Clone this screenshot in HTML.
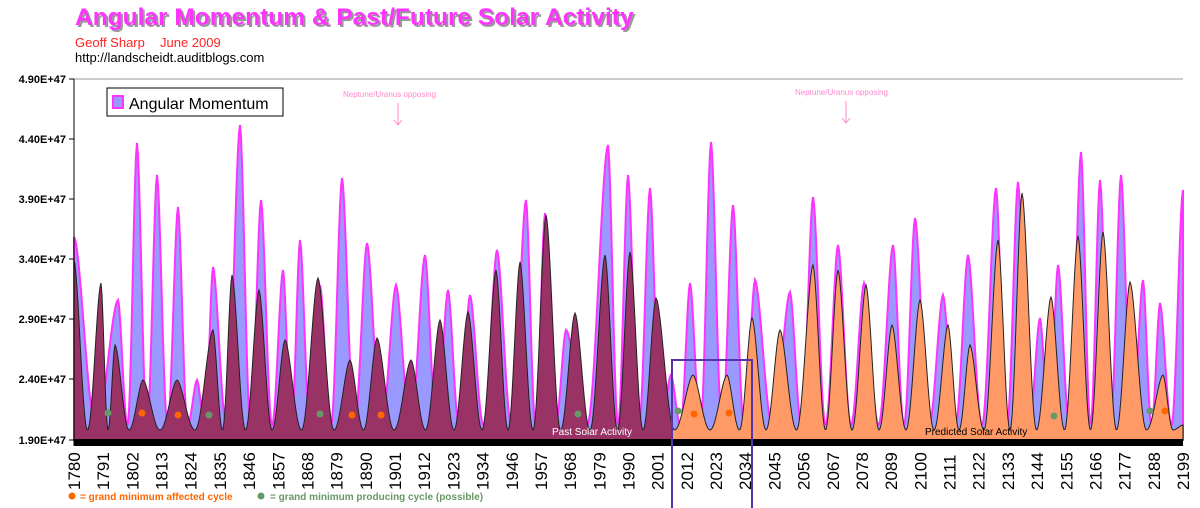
<!DOCTYPE html>
<html><head><meta charset="utf-8"><style>
body{margin:0;background:#fff;width:1200px;height:508px;overflow:hidden;font-family:"Liberation Sans",Arial,sans-serif}
</style></head><body>
<svg id="s" width="1200" height="508" xmlns="http://www.w3.org/2000/svg" style="position:absolute;left:0;top:0">
<text x="77" y="27" font-size="24.5" font-weight="bold" fill="#999" font-family="Liberation Sans">Angular Momentum &amp; Past/Future Solar Activity</text>
<text x="75" y="25" font-size="24.5" font-weight="bold" fill="#ff33ff" font-family="Liberation Sans">Angular Momentum &amp; Past/Future Solar Activity</text>
<text x="75" y="47" font-size="13" fill="#ff2222">Geoff Sharp</text>
<text x="160" y="47" font-size="13" fill="#ff2222">June 2009</text>
<text x="75" y="62" font-size="13" fill="#000">http://landscheidt.auditblogs.com</text>
<line x1="74" y1="79" x2="1183" y2="79" stroke="#999" stroke-width="1"/>
<g id="plot"></g>
<rect x="74" y="439" width="1109" height="7" fill="#000"/>
<line x1="74" y1="79" x2="74" y2="446" stroke="#000"/>
<g font-size="11" font-weight="bold" text-anchor="end">
<text x="66" y="83">4.90E+47</text><text x="66" y="143">4.40E+47</text><text x="66" y="203">3.90E+47</text>
<text x="66" y="263">3.40E+47</text><text x="66" y="323">2.90E+47</text><text x="66" y="383">2.40E+47</text><text x="66" y="444">1.90E+47</text>
</g>
<g stroke="#000"><line x1="69" y1="79" x2="74" y2="79"/><line x1="69" y1="139" x2="74" y2="139"/><line x1="69" y1="199" x2="74" y2="199"/><line x1="69" y1="259" x2="74" y2="259"/><line x1="69" y1="319" x2="74" y2="319"/><line x1="69" y1="379" x2="74" y2="379"/><line x1="69" y1="440" x2="74" y2="440"/></g>
<g id="xl" font-size="17"></g>
<rect x="107" y="88" width="176" height="28" fill="#fff" stroke="#000"/>
<rect x="113" y="96" width="10" height="12" fill="#9999ff" stroke="#ff33ff" stroke-width="2"/>
<text x="129" y="109" font-size="16">Angular Momentum</text>
<g fill="#ff88cc" font-size="8"><text x="343" y="97">Neptune/Uranus opposing</text><text x="795" y="95">Neptune/Uranus opposing</text></g>
<g stroke="#ff88cc" fill="none"><path d="M398 103V125M394 120L398 125L402 120"/><path d="M846 101V123M842 118L846 123L850 118"/></g>
<text x="552" y="435" font-size="10" fill="#fff">Past Solar Activity</text>
<text x="925" y="435" font-size="10" fill="#000">Predicted Solar Activity</text>
<g fill="#ff6600"><circle cx="142" cy="413" r="3.5"/><circle cx="178" cy="415" r="3.5"/><circle cx="352" cy="415" r="3.5"/><circle cx="381" cy="415" r="3.5"/><circle cx="694" cy="414" r="3.5"/><circle cx="729" cy="413" r="3.5"/><circle cx="1165" cy="411" r="3.5"/><circle cx="72" cy="496" r="3.5"/></g>
<g fill="#669966"><circle cx="108" cy="413" r="3.5"/><circle cx="209" cy="415" r="3.5"/><circle cx="320" cy="414" r="3.5"/><circle cx="578" cy="414" r="3.5"/><circle cx="678" cy="411" r="3.5"/><circle cx="1054" cy="416" r="3.5"/><circle cx="1150" cy="411" r="3.5"/><circle cx="261" cy="496" r="3.5"/></g>
<text x="80" y="500" font-size="10" font-weight="bold" fill="#ff6600">= grand minimum affected cycle</text>
<text x="270" y="500" font-size="10" font-weight="bold" fill="#669966">= grand minimum producing cycle (possible)</text>
<rect x="672" y="360" width="80" height="150" fill="none" stroke="#5533aa" stroke-width="2"/>
</svg>
<script>
var NS="http://www.w3.org/2000/svg";
var blue=[[74,237],[118,300],[137,143],[157,175],[178,207],[197,380],[213,267],[240,125],[261,200],[283,270],[300,240],[320,285],[342,178],[367,243],[396,285],[425,255],[448,290],[470,295],[497,250],[526,200],[545,213],[566,330],[608,145],[628,175],[650,188],[671,375],[690,283],[711,142],[733,205],[755,280],[790,292],[813,197],[838,245],[864,283],[893,245],[915,218],[943,295],[968,255],[996,188],[1018,182],[1040,318],[1058,265],[1081,152],[1100,180],[1121,175],[1143,280],[1160,303],[1183,190]];
var sol=[[74,260],[101,283],[115,345],[143,380],[177,380],[213,330],[232,275],[259,290],[285,340],[318,278],[350,360],[377,338],[411,360],[440,320],[468,312],[496,270],[520,262],[546,215],[575,313],[605,255],[630,252],[656,298],[693,375],[727,375],[752,318],[780,330],[813,265],[838,270],[866,285],[892,325],[920,300],[948,325],[970,345],[998,240],[1022,193],[1051,297],[1078,236],[1103,232],[1130,282],[1163,375],[1183,425]];
function build(pk,tr){
 var pts=[];
 for(var i=0;i<pk.length-1;i++){
  var a=pk[i],b=pk[i+1],m=(a[0]+b[0])/2;
  for(var x=a[0];x<b[0];x+=1){
   var y;
   if(x<m){var t=(x-a[0])/(m-a[0]);y=a[1]+(tr-a[1])*Math.pow((1-Math.cos(t*Math.PI))/2,0.85);}
   else{var t=(x-m)/(b[0]-m);y=b[1]+(tr-b[1])*Math.pow((1+Math.cos(t*Math.PI))/2,0.85);}
   pts.push([x,y]);
  }
 }
 pts.push(pk[pk.length-1]);return pts;
}
function path(pts,x0,x1){
 var d="M"+x0+" 440";
 pts.forEach(function(p){if(p[0]>=x0&&p[0]<=x1)d+="L"+p[0]+" "+p[1].toFixed(1);});
 return d+"L"+x1+" 440Z";
}
var g=document.getElementById("plot");
function add(d,f,s,w){var e=document.createElementNS(NS,"path");e.setAttribute("d",d);e.setAttribute("fill",f);e.setAttribute("stroke",s);e.setAttribute("stroke-width",w);g.appendChild(e);}
var bp=build(blue,425),sp=build(sol,430);
add(path(bp,74,1183),"#9999ff","#ff33ff",2);
add(path(sp,74,672),"#993366","#222",1);
add(path(sp,672,1183),"#ff9966","#222",1);
var xl=document.getElementById("xl");
var yrs=[1780,1791,1802,1813,1824,1835,1846,1857,1868,1879,1890,1901,1912,1923,1934,1946,1957,1968,1979,1990,2001,2012,2023,2034,2045,2056,2067,2078,2089,2100,2111,2122,2133,2144,2155,2166,2177,2188,2199];
yrs.forEach(function(y,i){var x=74+i*(1183-74)/(yrs.length-1)+6;var t=document.createElementNS(NS,"text");t.setAttribute("transform","translate("+x+",490) rotate(-90)");t.textContent=y;xl.appendChild(t);});
</script>
</body></html>
